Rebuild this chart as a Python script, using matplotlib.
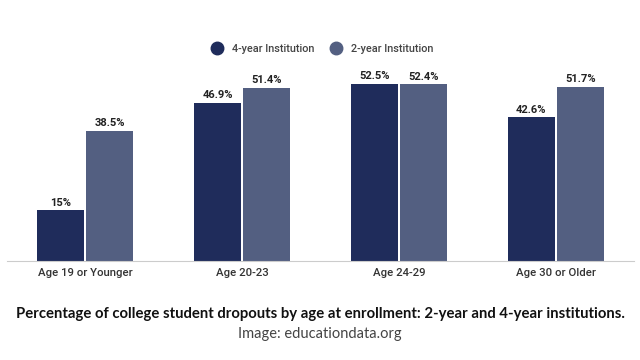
import matplotlib.pyplot as plt
import numpy as np

categories = ["Age 19 or Younger", "Age 20-23", "Age 24-29", "Age 30 or Older"]
four_year = [15, 46.9, 52.5, 42.6]
two_year = [38.5, 51.4, 52.4, 51.7]
four_labels = ["15%", "46.9%", "52.5%", "42.6%"]
two_labels = ["38.5%", "51.4%", "52.4%", "51.7%"]

c4 = "#1f2c5b"
c2 = "#535f81"

fig = plt.figure(figsize=(6.4, 3.6), dpi=100)
ax = fig.add_axes([0.0102, 0.275, 0.981, 0.562])

x = np.arange(len(categories))
w = 0.3
off = 0.156
b1 = ax.bar(x - off, four_year, w, color=c4, label="4-year Institution")
b2 = ax.bar(x + off, two_year, w, color=c2, label="2-year Institution")

for bars, labs in [(b1, four_labels), (b2, two_labels)]:
    for b, lab in zip(bars, labs):
        ax.annotate(lab, (b.get_x() + b.get_width() / 2, b.get_height()),
                    xytext=(0, 2), textcoords="offset points", ha="center", va="bottom",
                    fontsize=8, fontweight="bold", color="#222222", family="Roboto")

ax.set_xlim(-0.5, 3.5)
ax.set_ylim(0, 60)
ax.set_xticks(x)
ax.set_xticklabels(categories, fontsize=8.2, color="#333333", family="Roboto",
                   fontweight="medium")
ax.tick_params(axis="x", length=0, pad=5)
ax.set_yticks([])
for s in ["top", "right", "left"]:
    ax.spines[s].set_visible(False)
ax.spines["bottom"].set_color("#cccccc")
ax.spines["bottom"].set_linewidth(0.8)

h1 = plt.Line2D([], [], marker="o", ls="", color=c4, markersize=9)
h2 = plt.Line2D([], [], marker="o", ls="", color=c2, markersize=9)
leg = fig.legend([h1, h2], ["4-year Institution", "2-year Institution"], loc="center",
                 bbox_to_anchor=(0.5, 0.864), ncol=2, frameon=False,
                 prop={"family": "Roboto", "size": 7.8, "weight": "medium"},
                 handletextpad=0.4, columnspacing=1.0)
for t in leg.get_texts():
    t.set_color("#444444")

fig.text(0.5, 0.128, "Percentage of college student dropouts by age at enrollment: 2-year and 4-year institutions.",
         ha="center", va="center", fontsize=10.7, fontweight="bold", family="Lato", color="#111111")
fig.text(0.5, 0.072, "Image: educationdata.org", ha="center", va="center",
         fontsize=10.5, family="Lato", color="#444444")

fig.savefig("out.png", dpi=100)
